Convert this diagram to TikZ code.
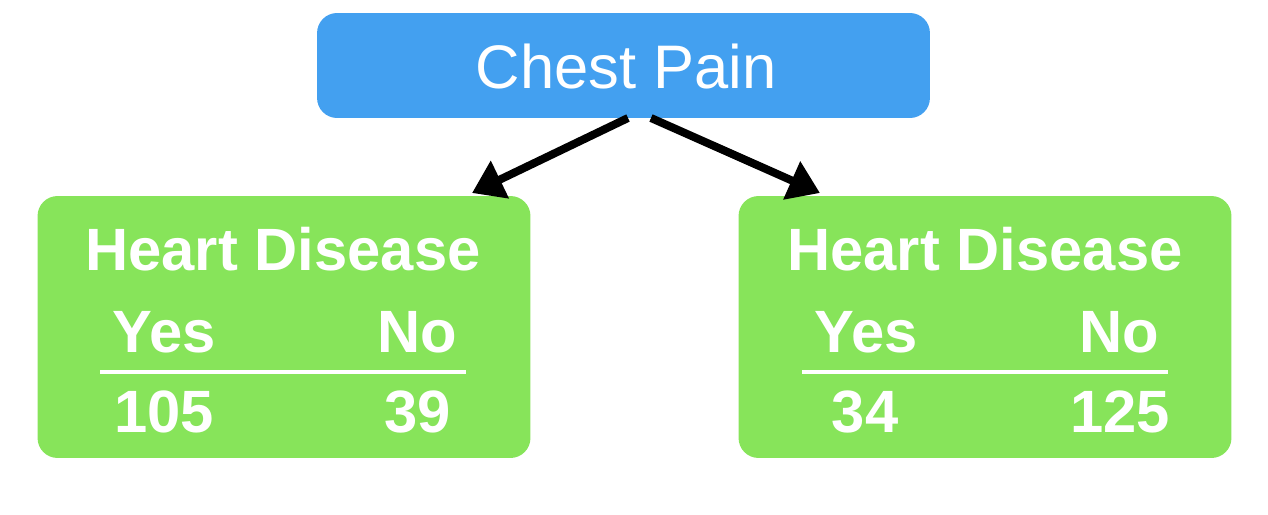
\documentclass[tikz,border=0pt]{standalone}
\usepackage{fontspec}
\setmainfont{Liberation Sans}
\usetikzlibrary{arrows.meta}
\definecolor{boxblue}{HTML}{43A0F0}
\definecolor{boxgreen}{HTML}{87E45A}
\tikzset{
  bluebox/.style={fill=boxblue, draw=none, rounded corners=0.4cm, minimum width=12.26cm, minimum height=2.1cm, inner sep=0pt},
  greenbox/.style={fill=boxgreen, draw=none, rounded corners=0.4cm, minimum width=9.86cm, minimum height=5.24cm, inner sep=0pt},
  lbl/.style={text=white, anchor=base, inner sep=0pt, font=\fontsize{34}{40}\selectfont\bfseries},
  titlelbl/.style={text=white, anchor=base, inner sep=0pt, font=\fontsize{35}{40}\selectfont},
  rule/.style={white, line width=0.08cm},
  arr/.style={black, line width=0.16cm, -{Triangle[length=0.62cm, width=0.8cm]}}
}
\begin{document}
\begin{tikzpicture}[x=0.02cm, y=-0.02cm]
\useasboundingbox (0,0) rectangle (1268,514);
% boxes
\node[bluebox] (cp) at (623.5,65.5) {};
\node[greenbox] (hd1) at (284,327) {};
\node[greenbox] (hd2) at (985,327) {};
% title text
\node[titlelbl] (cpt) at (626,88) {Chest Pain};
% left box texts
\node[lbl] (h1) at (283,270) {Heart Disease};
\node[lbl] (y1) at (164,352) {Yes};
\node[lbl] (n1) at (417,352) {No};
\node[lbl] (v1a) at (164,432) {105};
\node[lbl] (v1b) at (418,432) {39};
\coordinate (r1a) at (100,372);
\coordinate (r1b) at (466,372);
\draw[rule] (r1a) -- (r1b);
% right box texts
\node[lbl] (h2) at (985,270) {Heart Disease};
\node[lbl] (y2) at (866,352) {Yes};
\node[lbl] (n2) at (1119,352) {No};
\node[lbl] (v2a) at (865,432) {34};
\node[lbl] (v2b) at (1120,432) {125};
\coordinate (r2a) at (802,372);
\coordinate (r2b) at (1168,372);
\draw[rule] (r2a) -- (r2b);
% arrows
\coordinate (s1) at (628,118);
\coordinate (t1) at (472,193);
\coordinate (s2) at (651,118);
\coordinate (t2) at (820,193);
\draw[arr] (s1) -- (t1);
\draw[arr] (s2) -- (t2);
\end{tikzpicture}
\end{document}
